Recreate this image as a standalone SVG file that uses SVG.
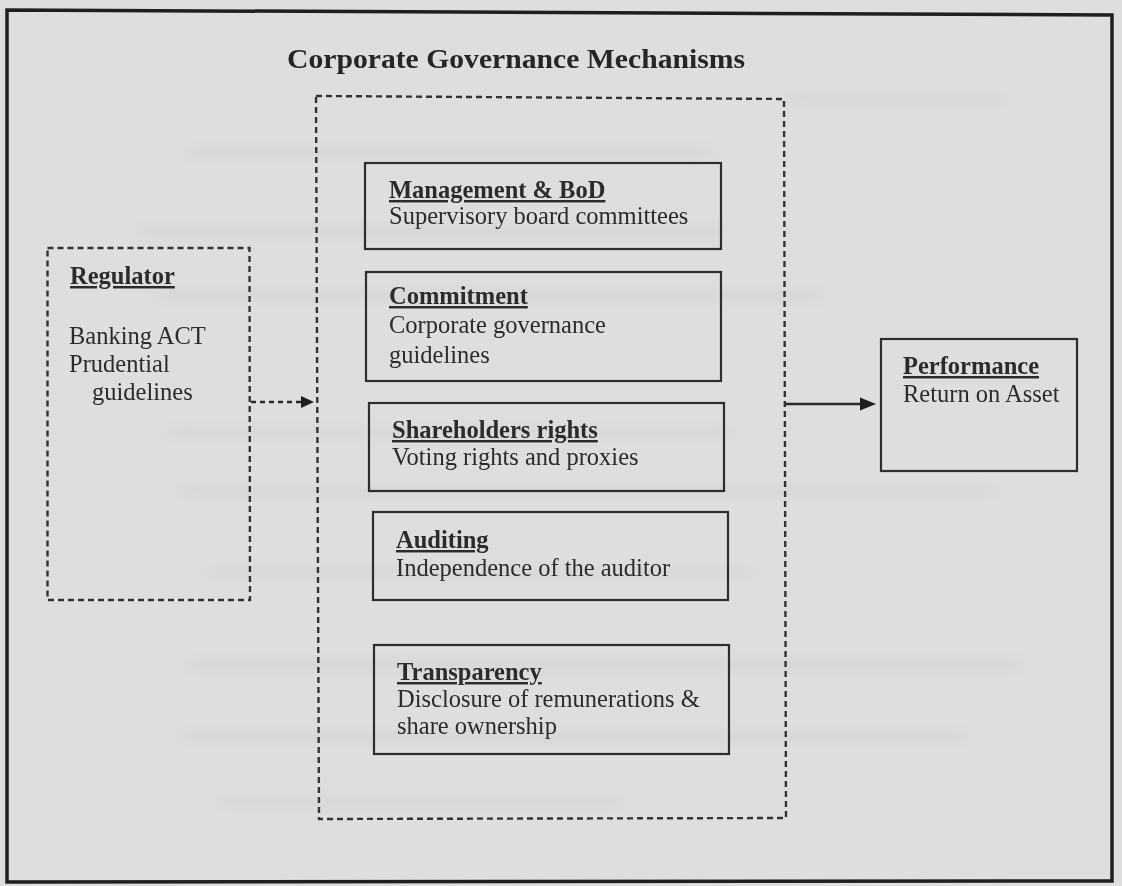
<svg xmlns="http://www.w3.org/2000/svg" width="1122" height="886" viewBox="0 0 1122 886">
  <defs>
    <style>
      .txt { font-family: "Liberation Serif", "Times New Roman", serif; font-size: 24.5px; fill: #2b2b2b; }
      .lbl { font-weight: bold; text-decoration: underline; }
      .title { font-family: "Liberation Serif", "Times New Roman", serif; font-size: 27px; font-weight: bold; fill: #262626; }
      .box { fill: none; stroke: #2e2e2e; stroke-width: 2.2; }
      .dash { fill: none; stroke: #333; stroke-width: 2.4; stroke-dasharray: 6 4; }
      .ghost { fill: #c8c8c8; opacity: 0.3; }
    </style>
    <filter id="soft" x="-10%" y="-300%" width="120%" height="700%">
      <feGaussianBlur stdDeviation="8 4"/>
    </filter>
  </defs>

  <!-- paper -->
  <rect x="0" y="0" width="1122" height="886" fill="#dedede"/>

  <!-- faint show-through from the reverse side of the sheet -->
  <g filter="url(#soft)">
    <rect class="ghost" x="790" y="94" width="210" height="10"/>
    <rect class="ghost" x="190" y="148" width="520" height="10"/>
    <rect class="ghost" x="140" y="226" width="580" height="10"/>
    <rect class="ghost" x="160" y="290" width="660" height="10"/>
    <rect class="ghost" x="170" y="428" width="560" height="9"/>
    <rect class="ghost" x="180" y="486" width="810" height="10"/>
    <rect class="ghost" x="210" y="568" width="540" height="9"/>
    <rect class="ghost" x="190" y="660" width="830" height="11"/>
    <rect class="ghost" x="185" y="732" width="780" height="10"/>
    <rect class="ghost" x="220" y="798" width="400" height="9"/>
  </g>

  <!-- outer frame -->
  <path d="M7,10 L1112,15 L1112,881 L7,882 Z" fill="none" stroke="#1f1f1f" stroke-width="3.5"/>

  <text class="title" x="287" y="68" textLength="458" lengthAdjust="spacingAndGlyphs">Corporate Governance Mechanisms</text>

  <!-- mechanisms container -->
  <g id="mechanisms">
    <path class="dash" d="M316,96 L784,99 L786,818 L319,819 Z"/>
  </g>

  <g id="regulator">
    <path class="dash" d="M47.5,248 L249.5,248 L250,600 L47.5,600 Z"/>
    <text class="txt lbl" x="70" y="284">Regulator</text>
    <text class="txt" x="69" y="344">Banking ACT</text>
    <text class="txt" x="69" y="372">Prudential</text>
    <text class="txt" x="92" y="400">guidelines</text>
  </g>

  <g id="management">
    <rect class="box" x="365" y="163" width="356" height="86"/>
    <text class="txt lbl" x="389" y="198">Management &amp; BoD</text>
    <text class="txt" x="389" y="224">Supervisory board committees</text>
  </g>

  <g id="commitment">
    <rect class="box" x="366" y="272" width="355" height="109"/>
    <text class="txt lbl" x="389" y="304">Commitment</text>
    <text class="txt" x="389" y="333">Corporate governance</text>
    <text class="txt" x="389" y="363">guidelines</text>
  </g>

  <g id="shareholders">
    <rect class="box" x="369" y="403" width="355" height="88"/>
    <text class="txt lbl" x="392" y="438">Shareholders rights</text>
    <text class="txt" x="392" y="465">Voting rights and proxies</text>
  </g>

  <g id="auditing">
    <rect class="box" x="373" y="512" width="355" height="88"/>
    <text class="txt lbl" x="396" y="548">Auditing</text>
    <text class="txt" x="396" y="576">Independence of the auditor</text>
  </g>

  <g id="transparency">
    <rect class="box" x="374" y="645" width="355" height="109"/>
    <text class="txt lbl" x="397" y="680">Transparency</text>
    <text class="txt" x="397" y="707">Disclosure of remunerations &amp;</text>
    <text class="txt" x="397" y="734">share ownership</text>
  </g>

  <g id="performance">
    <rect class="box" x="881" y="339" width="196" height="132"/>
    <text class="txt lbl" x="903" y="374">Performance</text>
    <text class="txt" x="903" y="402">Return on Asset</text>
  </g>

  <!-- connectors -->
  <g id="connectors">
    <line x1="251" y1="402" x2="302" y2="402" stroke="#2a2a2a" stroke-width="2.4" stroke-dasharray="5 4"/>
    <path d="M301,396 L314,402 L301,408 Z" fill="#1f1f1f"/>
    <line x1="786" y1="404" x2="862" y2="404" stroke="#2a2a2a" stroke-width="2.6"/>
    <path d="M860,397.5 L876,404 L860,410.5 Z" fill="#1f1f1f"/>
  </g>
</svg>
